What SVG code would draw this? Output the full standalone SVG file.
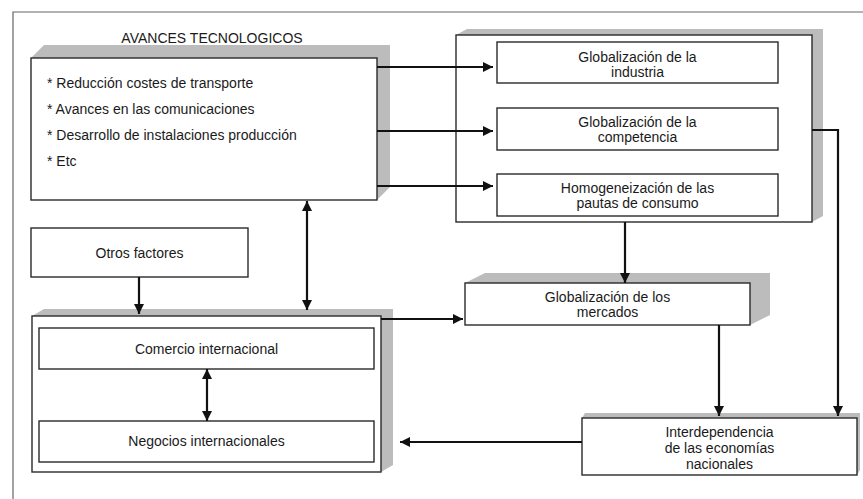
<svg xmlns="http://www.w3.org/2000/svg" width="863" height="499" viewBox="0 0 863 499">
<style>
.box{fill:#fff;stroke:#2a2a2a;stroke-width:1.4}
.sh{fill:#bcbcbc;stroke:none}
.t{font-family:"Liberation Sans",Arial,sans-serif;font-size:14px;fill:#1a1a1a}
.c{text-anchor:middle}
.ln{fill:none;stroke:#111;stroke-width:2.2}
.frame{fill:none;stroke:#666;stroke-width:1.2}
</style>
<defs>
<marker id="ah" viewBox="0 0 10 10" refX="10" refY="5" markerWidth="10" markerHeight="10" markerUnits="userSpaceOnUse" orient="auto-start-reverse">
<path d="M0,0 L10,5 L0,10 Z" fill="#111"/>
</marker>
</defs>
<rect width="863" height="499" fill="#fff"/>
<path class="frame" d="M13,499 V12 H863"/>

<g id="avances">
<text class="t c" x="212" y="43">AVANCES TECNOLOGICOS</text>
<polygon class="sh" points="31,58 44,45 390,45 390,187 377,200"/>
<rect class="box" x="31" y="58" width="346" height="142"/>
<text class="t" x="47" y="88">* Reducción costes de transporte</text>
<text class="t" x="47" y="114">* Avances en las comunicaciones</text>
<text class="t" x="47" y="140">* Desarrollo de instalaciones producción</text>
<text class="t" x="47" y="166">* Etc</text>
</g>

<g id="globalizacion-grupo">
<polygon class="sh" points="456,35 467,29 823,29 823,216 812,222"/>
<rect class="box" x="456" y="35" width="356" height="187"/>
</g>
<g id="glob-industria">
<rect class="box" x="497" y="42" width="281" height="41"/>
<text class="t c" x="637.5" y="62">Globalización de la</text>
<text class="t c" x="637.5" y="77">industria</text>
</g>
<g id="glob-competencia">
<rect class="box" x="497" y="108" width="281" height="42"/>
<text class="t c" x="637.5" y="127">Globalización de la</text>
<text class="t c" x="637.5" y="142">competencia</text>
</g>
<g id="homogeneizacion">
<rect class="box" x="497" y="174" width="281" height="42"/>
<text class="t c" x="637.5" y="193">Homogeneización de las</text>
<text class="t c" x="637.5" y="208">pautas de consumo</text>
</g>

<g id="otros">
<rect class="box" x="31" y="228" width="217" height="49"/>
<text class="t c" x="139.5" y="258">Otros factores</text>
</g>

<g id="mercados">
<polygon class="sh" points="465,283 485,273 770,273 770,315 750,325"/>
<rect class="box" x="465" y="283" width="285" height="42"/>
<text class="t c" x="607.5" y="302">Globalización de los</text>
<text class="t c" x="607.5" y="317">mercados</text>
</g>

<g id="comercio-grupo">
<polygon class="sh" points="32,316 44,309 393,309 393,465 381,472"/>
<rect class="box" x="32" y="316" width="349" height="156"/>
</g>
<g id="comercio">
<rect class="box" x="39" y="328" width="335" height="41"/>
<text class="t c" x="206.5" y="354">Comercio internacional</text>
</g>
<g id="negocios">
<rect class="box" x="39" y="421" width="335" height="41"/>
<text class="t c" x="206.5" y="446">Negocios internacionales</text>
</g>

<g id="interdependencia">
<polygon class="sh" points="582,418 585,413 860,413 860,470 857,475"/>
<rect class="box" x="582" y="418" width="275" height="57"/>
<text class="t c" x="719.5" y="437">Interdependencia</text>
<text class="t c" x="719.5" y="453">de las economías</text>
<text class="t c" x="719.5" y="469">nacionales</text>
</g>

<g id="connectors">
<path class="ln" d="M377,67 H493" marker-end="url(#ah)"/>
<path class="ln" d="M377,131 H493" marker-end="url(#ah)"/>
<path class="ln" d="M377,186 H493" marker-end="url(#ah)"/>
<path class="ln" d="M812,130 H838 V416" marker-end="url(#ah)"/>
<path class="ln" d="M625,222 V283" marker-end="url(#ah)"/>
<path class="ln" d="M719,325 V416" marker-end="url(#ah)"/>
<path class="ln" d="M582,442 H400" marker-end="url(#ah)"/>
<path class="ln" d="M381,319 H463" marker-end="url(#ah)"/>
<path class="ln" d="M307,201 V310" marker-start="url(#ah)" marker-end="url(#ah)"/>
<path class="ln" d="M139,277 V314" marker-end="url(#ah)"/>
<path class="ln" d="M207,369 V421" marker-start="url(#ah)" marker-end="url(#ah)"/>
</g>
</svg>
